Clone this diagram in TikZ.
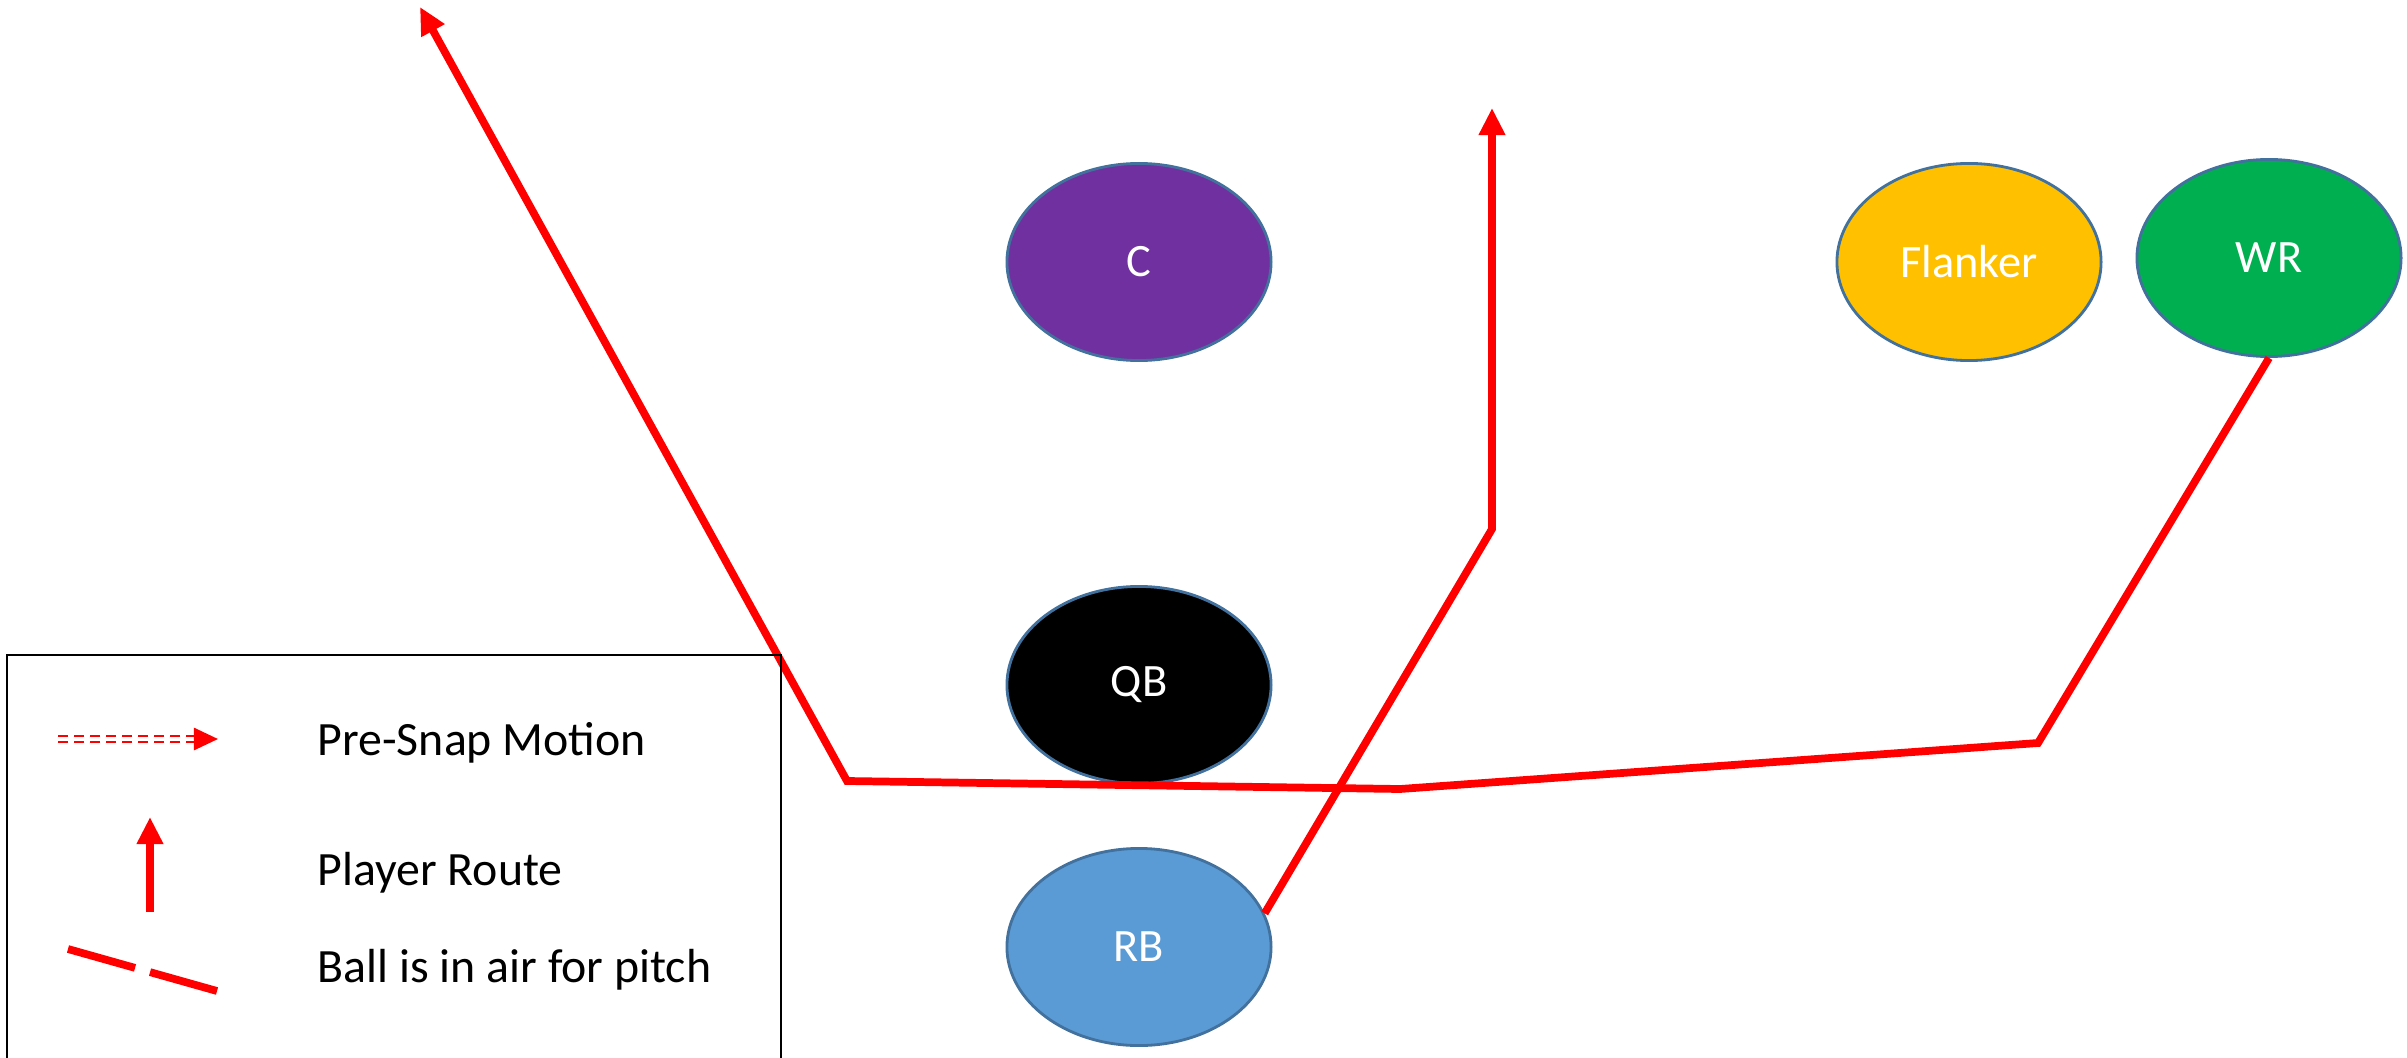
\documentclass[tikz,border=0pt]{standalone}
\usepackage{fontspec}
\setmainfont{Carlito}
\usetikzlibrary{shapes.geometric,arrows.meta}
\definecolor{rimblue}{HTML}{41719C}
\definecolor{cpurple}{HTML}{7030A0}
\definecolor{flankgold}{HTML}{FFC000}
\definecolor{wrgreen}{HTML}{00B050}
\definecolor{rbblue}{HTML}{5B9BD5}
\begin{document}
\begin{tikzpicture}
    [x=0.01cm, y=-0.01cm,
    player/.style={ellipse, draw=rimblue, line width=0.8pt, minimum width=2.64cm,
      minimum height=1.97cm, inner sep=0pt, text=white, font=\fontsize{13.2}{15}\selectfont},
    route/.style={red, line width=2.2pt},
    routetip/.style={-{Triangle[length=0.27cm,width=0.25cm]}},
    legendtext/.style={anchor=base west, inner sep=0pt, font=\fontsize{13.6}{16}\selectfont}]
    \useasboundingbox (0,0) rectangle (2407,1058);
    % players
    \node[player, fill=cpurple] (c) at (1139,262) {C};
    \node[player, fill=black] (qb) at (1139,685) {QB};
    \node[player, fill=rbblue] (rb) at (1139,947) {RB};
    \node[player, fill=flankgold] (flanker) at (1969,262) {Flanker};
    \node[player, fill=wrgreen] (wr) at (2269,258) {WR};
    % turns of the routes
    \coordinate (pitch1) at (2038,743);
    \coordinate (pitch2) at (1400,789);
    \coordinate (pitch3) at (847,781);
    \coordinate (deep) at (420,7);
    \coordinate (rbcut) at (1492,529);
    \coordinate (rbup) at (1492,108);
    \draw[route, routetip] (wr.south) -- (pitch1) -- (pitch2) -- (pitch3) -- (deep);
    \draw[route, routetip] (rb.15) -- (rbcut) -- (rbup);
    % legend
    \draw[line width=0.8pt] (7,1058) -- (7,655) -- (781,655) -- (781,1058);
    \coordinate (motionA) at (58,739);
    \coordinate (motionB) at (195,739);
    \coordinate (motionC) at (218,739);
    \draw[red, line width=0.75pt, double distance=0.035cm,
      dash pattern=on 0.1cm off 0.06cm] (motionA) -- (motionB);
    \draw[red, line width=0.75pt, -{Triangle[length=0.24cm,width=0.22cm]}] (motionB) -- (motionC);
    \coordinate (runA) at (150,912);
    \coordinate (runB) at (150,817);
    \draw[route, routetip] (runA) -- (runB);
    \coordinate (tossA) at (68,949);
    \coordinate (tossB) at (217,991);
    \draw[route, dash pattern=on 0.696cm off 0.156cm] (tossA) -- (tossB);
    \node[legendtext] (motion) at (317,755) {Pre-Snap Motion};
    \node[legendtext] (run) at (317,885) {Player Route};
    \node[legendtext] (toss) at (317,982) {Ball is in air for pitch};
\end{tikzpicture}
\end{document}
